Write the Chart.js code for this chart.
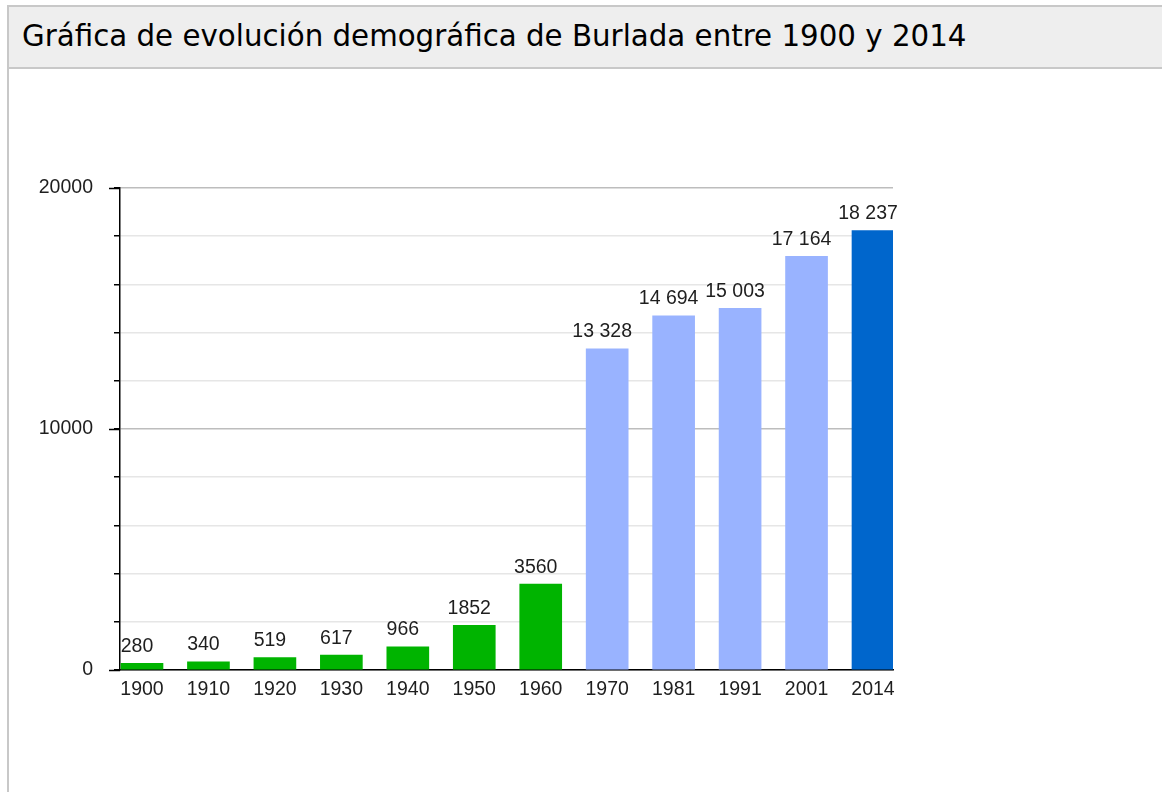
<!DOCTYPE html>
<html>
<head>
<meta charset="utf-8">
<script src="https://cdn.jsdelivr.net/npm/chart.js@4/dist/chart.umd.min.js"></script>
<style>
  html, body { margin: 0; padding: 0; background: #fff; width: 1162px; height: 792px; overflow: hidden; }
  #box { position: absolute; left: 7px; top: 5px; width: 1300px; height: 900px; border: 2px solid #c8c8c8; box-sizing: border-box; }
  #title { height: 60px; background: #eeeeee; border-bottom: 2px solid #c8c8c8; font-family: "DejaVu Sans", Verdana, sans-serif; font-size: 29.3px; line-height: 58px; padding-left: 13px; color: #000; white-space: nowrap; }
  #c { position: absolute; left: 0; top: 0; }
</style>
</head>
<body>
<div id="box"><div id="title">Gráfica de evolución demográfica de Burlada entre 1900 y 2014</div></div>
<canvas id="c" width="1162" height="792"></canvas>
<script>
const categories = ['1900','1910','1920','1930','1940','1950','1960','1970','1981','1991','2001','2014'];
const population = [280, 340, 519, 617, 966, 1852, 3560, 13328, 14694, 15003, 17164, 18237];
const barColors = ['#00b400','#00b400','#00b400','#00b400','#00b400','#00b400','#00b400','#99b3ff','#99b3ff','#99b3ff','#99b3ff','#0066cc'];
const yTickLabels = [0, 10000, 20000];

const FONT = { family: '"Liberation Sans", Arial, sans-serif', size: 19.5 };

function fmt(v) {
  const s = String(v);
  return v >= 10000 ? s.slice(0, s.length - 3) + ' ' + s.slice(-3) : s;
}

const labelPlugin = {
  id: 'labelPlugin',
  afterDraw(chart) {
    const ctx = chart.ctx;
    const y = chart.scales.y;
    const area = chart.chartArea;
    ctx.save();
    ctx.strokeStyle = '#000';
    ctx.lineWidth = 1.5;
    yTickLabels.forEach(v => {
      const py = Math.round(y.getPixelForValue(v)) + 0.5;
      ctx.beginPath();
      ctx.moveTo(area.left - 11, py);
      ctx.lineTo(area.left, py);
      ctx.stroke();
    });
    ctx.fillStyle = '#1e1e1e';
    ctx.font = FONT.size + 'px ' + FONT.family;
    ctx.textAlign = 'center';
    ctx.textBaseline = 'middle';
    const meta = chart.getDatasetMeta(0);
    meta.data.forEach((bar, i) => {
      ctx.fillText(fmt(population[i]), bar.x - 5, bar.y - 17);
    });
    ctx.restore();
  }
};

new Chart(document.getElementById('c'), {
  type: 'bar',
  data: {
    datasets: [{
      data: population.map((v, i) => ({ x: i, y: v })),
      backgroundColor: barColors,
      borderWidth: 0,
      barThickness: 42
    }]
  },
  options: {
    responsive: false,
    animation: false,
    events: [],
    layout: { padding: { top: 188, right: 269, left: 0, bottom: 0 } },
    plugins: { legend: { display: false }, tooltip: { enabled: false }, title: { display: false } },
    scales: {
      x: {
        type: 'linear',
        offset: false,
        min: -0.331,
        max: 11.301,
        grid: { display: false, drawTicks: false, offset: false },
        border: { display: true, color: '#000', width: 1.5 },
        ticks: {
          stepSize: 1,
          includeBounds: false,
          autoSkip: false,
          maxRotation: 0,
          minRotation: 0,
          padding: 8,
          color: '#1e1e1e',
          font: FONT,
          callback: (v) => (Number.isInteger(v) && categories[v] !== undefined) ? categories[v] : ''
        },
        afterFit(scale) { scale.height = 122; scale.paddingLeft = 0; scale.paddingRight = 0; }
      },
      y: {
        min: 0,
        max: 20000,
        grid: {
          color: (c) => (c.tick && c.tick.value % 10000 === 0) ? '#bdbdbd' : '#e6e6e6',
          tickColor: '#000',
          tickLength: 6,
          lineWidth: 1.5
        },
        border: { display: true, color: '#000', width: 1.5 },
        ticks: {
          stepSize: 2000,
          padding: 21,
          color: '#1e1e1e',
          font: FONT,
          callback: (v) => yTickLabels.includes(v) ? String(v) : ''
        },
        afterFit(scale) { scale.width = 120; scale.paddingTop = 0; scale.paddingBottom = 0; }
      }
    }
  },
  plugins: [labelPlugin]
});
</script>
</body>
</html>
